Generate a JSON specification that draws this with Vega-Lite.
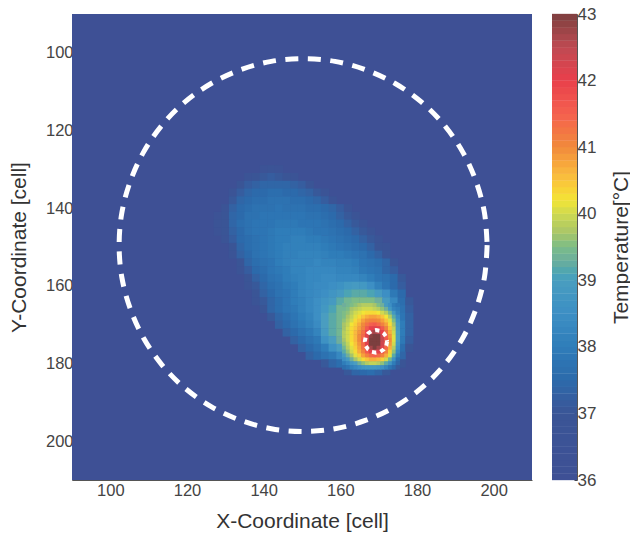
{"$schema":"https://vega.github.io/schema/vega-lite/v6.json","padding":{"left":8,"top":5,"right":0,"bottom":0},"background":"#ffffff","config":{"view":{"stroke":null},"font":"Liberation Sans","axis":{"labelFont":"Liberation Sans","titleFont":"Liberation Sans","labelFontSize":16.5,"titleFontSize":21,"titleFontWeight":"normal","labelColor":"#444444","titleColor":"#333333","grid":false}},"spacing":20,"hconcat":[{"width":460,"height":466,"encoding":{"x":{"field":"x","type":"quantitative","scale":{"domain":[90,210],"nice":false,"zero":false},"axis":{"title":"X-Coordinate [cell]","values":[100,120,140,160,180,200],"tickSize":-3,"tickColor":"#444444","domainColor":"#555555","labelPadding":5,"titlePadding":12}},"y":{"field":"y","type":"quantitative","scale":{"domain":[90,210],"nice":false,"zero":false,"reverse":true},"axis":{"title":"Y-Coordinate [cell]","values":[100,120,140,160,180,200],"tickSize":-3,"tickColor":"#444444","domainColor":"#555555","labelPadding":2,"titlePadding":16}}},"layer":[{"data":{"values":[{"x":90,"x2":210,"y":90,"y2":210,"t":36}]},"mark":{"type":"rect"},"encoding":{"x2":{"field":"x2"},"y2":{"field":"y2"},"color":{"field":"t","type":"quantitative","legend":null,"scale":{"domain":[36,37,37.5,38,38.5,39,39.3,39.7,40.2,40.6,41,41.5,42,42.5,43],"range":["#3e5095","#3a5596","#2c6aab","#2f7db9","#3d8fc4","#4a9dc0","#6fae9c","#a8c46a","#f2e536","#f9b93f","#f08a3c","#f4604f","#e93f4b","#bf4a52","#7c3f3f"]}}}},{"data":{"values":[
{"x":140,"y":130,"t":36.6},{"x":142,"y":130,"t":36.7},{"x":144,"y":130,"t":36.6},{"x":128,"y":142,"t":36.6},{"x":128,"y":144,"t":36.7},{"x":128,"y":146,"t":36.6},
{"x":136,"y":132,"t":36.8},{"x":138,"y":132,"t":37},{"x":140,"y":132,"t":37.1},{"x":142,"y":132,"t":37.2},{"x":144,"y":132,"t":37.1},{"x":146,"y":132,"t":37},{"x":148,"y":132,"t":36.8},
{"x":134,"y":134,"t":36.9},{"x":136,"y":134,"t":37.2},{"x":138,"y":134,"t":37.3},{"x":140,"y":134,"t":37.4},{"x":142,"y":134,"t":37.4},{"x":144,"y":134,"t":37.4},{"x":146,"y":134,"t":37.4},{"x":148,"y":134,"t":37.3},{"x":150,"y":134,"t":37.2},{"x":152,"y":134,"t":36.9},
{"x":132,"y":136,"t":36.8},{"x":134,"y":136,"t":37.2},{"x":136,"y":136,"t":37.4},{"x":138,"y":136,"t":37.5},{"x":140,"y":136,"t":37.5},{"x":142,"y":136,"t":37.6},{"x":144,"y":136,"t":37.6},{"x":146,"y":136,"t":37.5},{"x":148,"y":136,"t":37.5},{"x":150,"y":136,"t":37.4},{"x":152,"y":136,"t":37.3},{"x":154,"y":136,"t":37.1},{"x":156,"y":136,"t":36.8},
{"x":132,"y":138,"t":37.1},{"x":134,"y":138,"t":37.4},{"x":136,"y":138,"t":37.5},{"x":138,"y":138,"t":37.6},{"x":140,"y":138,"t":37.6},{"x":142,"y":138,"t":37.7},{"x":144,"y":138,"t":37.7},{"x":146,"y":138,"t":37.7},{"x":148,"y":138,"t":37.6},{"x":150,"y":138,"t":37.6},{"x":152,"y":138,"t":37.5},{"x":154,"y":138,"t":37.4},{"x":156,"y":138,"t":37.2},{"x":158,"y":138,"t":36.8},
{"x":130,"y":140,"t":36.8},{"x":132,"y":140,"t":37.3},{"x":134,"y":140,"t":37.5},{"x":136,"y":140,"t":37.6},{"x":138,"y":140,"t":37.7},{"x":140,"y":140,"t":37.7},{"x":142,"y":140,"t":37.7},{"x":144,"y":140,"t":37.8},{"x":146,"y":140,"t":37.7},{"x":148,"y":140,"t":37.7},{"x":150,"y":140,"t":37.7},{"x":152,"y":140,"t":37.6},{"x":154,"y":140,"t":37.6},{"x":156,"y":140,"t":37.5},{"x":158,"y":140,"t":37.4},{"x":160,"y":140,"t":37.2},{"x":162,"y":140,"t":36.8},
{"x":130,"y":142,"t":37},{"x":132,"y":142,"t":37.4},{"x":134,"y":142,"t":37.5},{"x":136,"y":142,"t":37.7},{"x":138,"y":142,"t":37.7},{"x":140,"y":142,"t":37.8},{"x":142,"y":142,"t":37.8},{"x":144,"y":142,"t":37.8},{"x":146,"y":142,"t":37.8},{"x":148,"y":142,"t":37.8},{"x":150,"y":142,"t":37.8},{"x":152,"y":142,"t":37.7},{"x":154,"y":142,"t":37.7},{"x":156,"y":142,"t":37.6},{"x":158,"y":142,"t":37.5},{"x":160,"y":142,"t":37.3},{"x":162,"y":142,"t":37.1},{"x":164,"y":142,"t":36.8},
{"x":130,"y":144,"t":37},{"x":132,"y":144,"t":37.4},{"x":134,"y":144,"t":37.6},{"x":136,"y":144,"t":37.7},{"x":138,"y":144,"t":37.8},{"x":140,"y":144,"t":37.8},{"x":142,"y":144,"t":37.8},{"x":144,"y":144,"t":37.9},{"x":146,"y":144,"t":37.9},{"x":148,"y":144,"t":37.9},{"x":150,"y":144,"t":37.8},{"x":152,"y":144,"t":37.8},{"x":154,"y":144,"t":37.8},{"x":156,"y":144,"t":37.7},{"x":158,"y":144,"t":37.6},{"x":160,"y":144,"t":37.5},{"x":162,"y":144,"t":37.3},{"x":164,"y":144,"t":37.1},{"x":166,"y":144,"t":36.8},
{"x":130,"y":146,"t":36.9},{"x":132,"y":146,"t":37.3},{"x":134,"y":146,"t":37.5},{"x":136,"y":146,"t":37.7},{"x":138,"y":146,"t":37.8},{"x":140,"y":146,"t":37.8},{"x":142,"y":146,"t":37.9},{"x":144,"y":146,"t":38},{"x":146,"y":146,"t":38},{"x":148,"y":146,"t":38},{"x":150,"y":146,"t":38},{"x":152,"y":146,"t":37.9},{"x":154,"y":146,"t":37.8},{"x":156,"y":146,"t":37.8},{"x":158,"y":146,"t":37.7},{"x":160,"y":146,"t":37.6},{"x":162,"y":146,"t":37.5},{"x":164,"y":146,"t":37.3},{"x":166,"y":146,"t":37.1},{"x":168,"y":146,"t":36.8},
{"x":130,"y":148,"t":36.8},{"x":132,"y":148,"t":37.2},{"x":134,"y":148,"t":37.5},{"x":136,"y":148,"t":37.6},{"x":138,"y":148,"t":37.7},{"x":140,"y":148,"t":37.8},{"x":142,"y":148,"t":37.9},{"x":144,"y":148,"t":38},{"x":146,"y":148,"t":38},{"x":148,"y":148,"t":38.1},{"x":150,"y":148,"t":38.1},{"x":152,"y":148,"t":38},{"x":154,"y":148,"t":38},{"x":156,"y":148,"t":37.9},{"x":158,"y":148,"t":37.8},{"x":160,"y":148,"t":37.7},{"x":162,"y":148,"t":37.6},{"x":164,"y":148,"t":37.5},{"x":166,"y":148,"t":37.3},{"x":168,"y":148,"t":37.1},{"x":170,"y":148,"t":36.8},
{"x":132,"y":150,"t":37},{"x":134,"y":150,"t":37.4},{"x":136,"y":150,"t":37.6},{"x":138,"y":150,"t":37.7},{"x":140,"y":150,"t":37.8},{"x":142,"y":150,"t":37.9},{"x":144,"y":150,"t":38},{"x":146,"y":150,"t":38.1},{"x":148,"y":150,"t":38.1},{"x":150,"y":150,"t":38.1},{"x":152,"y":150,"t":38.1},{"x":154,"y":150,"t":38.1},{"x":156,"y":150,"t":38},{"x":158,"y":150,"t":37.9},{"x":160,"y":150,"t":37.8},{"x":162,"y":150,"t":37.7},{"x":164,"y":150,"t":37.6},{"x":166,"y":150,"t":37.5},{"x":168,"y":150,"t":37.3},{"x":170,"y":150,"t":37},{"x":172,"y":150,"t":36.8},
{"x":132,"y":152,"t":36.8},{"x":134,"y":152,"t":37.3},{"x":136,"y":152,"t":37.5},{"x":138,"y":152,"t":37.7},{"x":140,"y":152,"t":37.8},{"x":142,"y":152,"t":37.9},{"x":144,"y":152,"t":38},{"x":146,"y":152,"t":38.1},{"x":148,"y":152,"t":38.1},{"x":150,"y":152,"t":38.2},{"x":152,"y":152,"t":38.2},{"x":154,"y":152,"t":38.2},{"x":156,"y":152,"t":38.1},{"x":158,"y":152,"t":38},{"x":160,"y":152,"t":38},{"x":162,"y":152,"t":37.9},{"x":164,"y":152,"t":37.8},{"x":166,"y":152,"t":37.7},{"x":168,"y":152,"t":37.5},{"x":170,"y":152,"t":37.3},{"x":172,"y":152,"t":37},
{"x":134,"y":154,"t":37},{"x":136,"y":154,"t":37.4},{"x":138,"y":154,"t":37.6},{"x":140,"y":154,"t":37.7},{"x":142,"y":154,"t":37.8},{"x":144,"y":154,"t":38},{"x":146,"y":154,"t":38.1},{"x":148,"y":154,"t":38.2},{"x":150,"y":154,"t":38.2},{"x":152,"y":154,"t":38.2},{"x":154,"y":154,"t":38.3},{"x":156,"y":154,"t":38.2},{"x":158,"y":154,"t":38.2},{"x":160,"y":154,"t":38.1},{"x":162,"y":154,"t":38.1},{"x":164,"y":154,"t":38},{"x":166,"y":154,"t":37.8},{"x":168,"y":154,"t":37.7},{"x":170,"y":154,"t":37.6},{"x":172,"y":154,"t":37.4},{"x":174,"y":154,"t":37},
{"x":134,"y":156,"t":36.8},{"x":136,"y":156,"t":37.2},{"x":138,"y":156,"t":37.5},{"x":140,"y":156,"t":37.6},{"x":142,"y":156,"t":37.8},{"x":144,"y":156,"t":37.9},{"x":146,"y":156,"t":38},{"x":148,"y":156,"t":38.2},{"x":150,"y":156,"t":38.2},{"x":152,"y":156,"t":38.3},{"x":154,"y":156,"t":38.3},{"x":156,"y":156,"t":38.3},{"x":158,"y":156,"t":38.3},{"x":160,"y":156,"t":38.2},{"x":162,"y":156,"t":38.2},{"x":164,"y":156,"t":38.1},{"x":166,"y":156,"t":37.9},{"x":168,"y":156,"t":37.8},{"x":170,"y":156,"t":37.7},{"x":172,"y":156,"t":37.4},{"x":174,"y":156,"t":37.2},
{"x":136,"y":158,"t":36.9},{"x":138,"y":158,"t":37.3},{"x":140,"y":158,"t":37.5},{"x":142,"y":158,"t":37.7},{"x":144,"y":158,"t":37.8},{"x":146,"y":158,"t":38},{"x":148,"y":158,"t":38.1},{"x":150,"y":158,"t":38.2},{"x":152,"y":158,"t":38.3},{"x":154,"y":158,"t":38.3},{"x":156,"y":158,"t":38.4},{"x":158,"y":158,"t":38.4},{"x":160,"y":158,"t":38.3},{"x":162,"y":158,"t":38.3},{"x":164,"y":158,"t":38.3},{"x":166,"y":158,"t":38.2},{"x":168,"y":158,"t":38},{"x":170,"y":158,"t":37.8},{"x":172,"y":158,"t":37.7},{"x":174,"y":158,"t":37.5},{"x":176,"y":158,"t":37.1},
{"x":136,"y":160,"t":36.8},{"x":138,"y":160,"t":37.1},{"x":140,"y":160,"t":37.4},{"x":142,"y":160,"t":37.6},{"x":144,"y":160,"t":37.7},{"x":146,"y":160,"t":37.9},{"x":148,"y":160,"t":38},{"x":150,"y":160,"t":38.2},{"x":152,"y":160,"t":38.3},{"x":154,"y":160,"t":38.4},{"x":156,"y":160,"t":38.4},{"x":158,"y":160,"t":38.5},{"x":160,"y":160,"t":38.6},{"x":162,"y":160,"t":38.8},{"x":164,"y":160,"t":38.9},{"x":166,"y":160,"t":38.8},{"x":168,"y":160,"t":38.5},{"x":170,"y":160,"t":38.1},{"x":172,"y":160,"t":37.8},{"x":174,"y":160,"t":37.5},{"x":176,"y":160,"t":37.2},
{"x":138,"y":162,"t":36.9},{"x":140,"y":162,"t":37.3},{"x":142,"y":162,"t":37.5},{"x":144,"y":162,"t":37.7},{"x":146,"y":162,"t":37.8},{"x":148,"y":162,"t":38},{"x":150,"y":162,"t":38.2},{"x":152,"y":162,"t":38.3},{"x":154,"y":162,"t":38.4},{"x":156,"y":162,"t":38.5},{"x":158,"y":162,"t":38.7},{"x":160,"y":162,"t":38.9},{"x":162,"y":162,"t":39.1},{"x":164,"y":162,"t":39.2},{"x":166,"y":162,"t":39.2},{"x":168,"y":162,"t":39.1},{"x":170,"y":162,"t":38.9},{"x":172,"y":162,"t":38.5},{"x":174,"y":162,"t":37.9},{"x":176,"y":162,"t":37.5},
{"x":138,"y":164,"t":36.8},{"x":140,"y":164,"t":37.1},{"x":142,"y":164,"t":37.4},{"x":144,"y":164,"t":37.6},{"x":146,"y":164,"t":37.8},{"x":148,"y":164,"t":38},{"x":150,"y":164,"t":38.1},{"x":152,"y":164,"t":38.3},{"x":154,"y":164,"t":38.5},{"x":156,"y":164,"t":38.7},{"x":158,"y":164,"t":38.9},{"x":160,"y":164,"t":39.2},{"x":162,"y":164,"t":39.4},{"x":164,"y":164,"t":39.5},{"x":166,"y":164,"t":39.5},{"x":168,"y":164,"t":39.5},{"x":170,"y":164,"t":39.3},{"x":172,"y":164,"t":38.9},{"x":174,"y":164,"t":38.3},{"x":176,"y":164,"t":37.6},{"x":178,"y":164,"t":37.1},
{"x":140,"y":166,"t":37},{"x":142,"y":166,"t":37.4},{"x":144,"y":166,"t":37.6},{"x":146,"y":166,"t":37.8},{"x":148,"y":166,"t":37.9},{"x":150,"y":166,"t":38.1},{"x":152,"y":166,"t":38.3},{"x":154,"y":166,"t":38.5},{"x":156,"y":166,"t":38.8},{"x":158,"y":166,"t":39.1},{"x":160,"y":166,"t":39.4},{"x":176,"y":166,"t":37.7},{"x":178,"y":166,"t":37.2},
{"x":142,"y":168,"t":37.1},{"x":144,"y":168,"t":37.4},{"x":146,"y":168,"t":37.6},{"x":148,"y":168,"t":37.8},{"x":150,"y":168,"t":38},{"x":152,"y":168,"t":38.2},{"x":154,"y":168,"t":38.5},{"x":156,"y":168,"t":39},{"x":158,"y":168,"t":39.2},{"x":160,"y":168,"t":39.4},{"x":176,"y":168,"t":37.8},{"x":178,"y":168,"t":37.3},
{"x":144,"y":170,"t":37.3},{"x":146,"y":170,"t":37.5},{"x":148,"y":170,"t":37.7},{"x":150,"y":170,"t":37.9},{"x":152,"y":170,"t":38.1},{"x":154,"y":170,"t":38.4},{"x":156,"y":170,"t":39},{"x":158,"y":170,"t":39.2},{"x":160,"y":170,"t":39.4},{"x":176,"y":170,"t":38},{"x":178,"y":170,"t":37.3},
{"x":146,"y":172,"t":37.3},{"x":148,"y":172,"t":37.5},{"x":150,"y":172,"t":37.7},{"x":152,"y":172,"t":37.9},{"x":154,"y":172,"t":38.2},{"x":156,"y":172,"t":38.9},{"x":158,"y":172,"t":39.2},{"x":160,"y":172,"t":39.4},{"x":176,"y":172,"t":38},{"x":178,"y":172,"t":37.3},
{"x":148,"y":174,"t":37.3},{"x":150,"y":174,"t":37.5},{"x":152,"y":174,"t":37.7},{"x":154,"y":174,"t":37.9},{"x":156,"y":174,"t":38.6},{"x":158,"y":174,"t":39},{"x":160,"y":174,"t":39.3},{"x":176,"y":174,"t":37.9},{"x":178,"y":174,"t":37.2},
{"x":150,"y":176,"t":37.3},{"x":152,"y":176,"t":37.5},{"x":154,"y":176,"t":37.7},{"x":156,"y":176,"t":38},{"x":158,"y":176,"t":38.6},{"x":160,"y":176,"t":39},{"x":176,"y":176,"t":37.6},{"x":178,"y":176,"t":37},
{"x":152,"y":178,"t":37.3},{"x":154,"y":178,"t":37.5},{"x":156,"y":178,"t":37.7},{"x":158,"y":178,"t":37.9},{"x":160,"y":178,"t":38.3},{"x":176,"y":178,"t":37.4},
{"x":156,"y":180,"t":37.1},{"x":158,"y":180,"t":37.4},{"x":160,"y":180,"t":37.6},{"x":176,"y":180,"t":37},
{"x":162,"y":182,"t":37.1},{"x":164,"y":182,"t":37.4},{"x":166,"y":182,"t":37.5},{"x":168,"y":182,"t":37.6},{"x":170,"y":182,"t":37.4},{"x":172,"y":182,"t":37.1}
]},"mark":{"type":"rect","width":8.2,"height":8.2},"encoding":{"color":{"field":"t","type":"quantitative","legend":null}}},{"data":{"values":[
{"x":161,"y":165,"t":39.3},{"x":162,"y":165,"t":39.4},{"x":163,"y":165,"t":39.5},{"x":164,"y":165,"t":39.6},{"x":165,"y":165,"t":39.7},{"x":166,"y":165,"t":39.8},{"x":167,"y":165,"t":39.8},{"x":168,"y":165,"t":39.8},{"x":169,"y":165,"t":39.7},{"x":170,"y":165,"t":39.5},{"x":171,"y":165,"t":39.3},{"x":172,"y":165,"t":38.9},{"x":173,"y":165,"t":38.5},{"x":174,"y":165,"t":38},{"x":175,"y":165,"t":37.8},
{"x":161,"y":166,"t":39.4},{"x":162,"y":166,"t":39.5},{"x":163,"y":166,"t":39.7},{"x":164,"y":166,"t":39.8},{"x":165,"y":166,"t":39.9},{"x":166,"y":166,"t":40},{"x":167,"y":166,"t":40},{"x":168,"y":166,"t":40},{"x":169,"y":166,"t":39.9},{"x":170,"y":166,"t":39.8},{"x":171,"y":166,"t":39.6},{"x":172,"y":166,"t":39.3},{"x":173,"y":166,"t":38.8},{"x":174,"y":166,"t":38.2},{"x":175,"y":166,"t":38},
{"x":161,"y":167,"t":39.5},{"x":162,"y":167,"t":39.6},{"x":163,"y":167,"t":39.8},{"x":164,"y":167,"t":40},{"x":165,"y":167,"t":40.1},{"x":166,"y":167,"t":40.2},{"x":167,"y":167,"t":40.3},{"x":168,"y":167,"t":40.3},{"x":169,"y":167,"t":40.3},{"x":170,"y":167,"t":40.2},{"x":171,"y":167,"t":40},{"x":172,"y":167,"t":39.8},{"x":173,"y":167,"t":39.4},{"x":174,"y":167,"t":38.8},{"x":175,"y":167,"t":38.1},
{"x":161,"y":168,"t":39.5},{"x":162,"y":168,"t":39.7},{"x":163,"y":168,"t":39.9},{"x":164,"y":168,"t":40.1},{"x":165,"y":168,"t":40.3},{"x":166,"y":168,"t":40.5},{"x":167,"y":168,"t":40.7},{"x":168,"y":168,"t":40.8},{"x":169,"y":168,"t":40.8},{"x":170,"y":168,"t":40.7},{"x":171,"y":168,"t":40.5},{"x":172,"y":168,"t":40.2},{"x":173,"y":168,"t":39.8},{"x":174,"y":168,"t":39.2},{"x":175,"y":168,"t":38.4},
{"x":161,"y":169,"t":39.6},{"x":162,"y":169,"t":39.8},{"x":163,"y":169,"t":40},{"x":164,"y":169,"t":40.3},{"x":165,"y":169,"t":40.5},{"x":166,"y":169,"t":40.8},{"x":167,"y":169,"t":41},{"x":168,"y":169,"t":41.1},{"x":169,"y":169,"t":41.1},{"x":170,"y":169,"t":41},{"x":171,"y":169,"t":40.8},{"x":172,"y":169,"t":40.5},{"x":173,"y":169,"t":40.1},{"x":174,"y":169,"t":39.5},{"x":175,"y":169,"t":38.6},
{"x":161,"y":170,"t":39.7},{"x":162,"y":170,"t":39.9},{"x":163,"y":170,"t":40.2},{"x":164,"y":170,"t":40.4},{"x":165,"y":170,"t":40.7},{"x":166,"y":170,"t":41},{"x":167,"y":170,"t":41.3},{"x":168,"y":170,"t":41.5},{"x":169,"y":170,"t":41.6},{"x":170,"y":170,"t":41.4},{"x":171,"y":170,"t":41.1},{"x":172,"y":170,"t":40.8},{"x":173,"y":170,"t":40.3},{"x":174,"y":170,"t":39.7},{"x":175,"y":170,"t":38.8},
{"x":161,"y":171,"t":39.7},{"x":162,"y":171,"t":40},{"x":163,"y":171,"t":40.3},{"x":164,"y":171,"t":40.5},{"x":165,"y":171,"t":40.8},{"x":166,"y":171,"t":41.1},{"x":167,"y":171,"t":41.6},{"x":168,"y":171,"t":42},{"x":169,"y":171,"t":42.1},{"x":170,"y":171,"t":42},{"x":171,"y":171,"t":41.6},{"x":172,"y":171,"t":41.1},{"x":173,"y":171,"t":40.5},{"x":174,"y":171,"t":39.9},{"x":175,"y":171,"t":38.9},
{"x":161,"y":172,"t":39.8},{"x":162,"y":172,"t":40},{"x":163,"y":172,"t":40.3},{"x":164,"y":172,"t":40.6},{"x":165,"y":172,"t":40.9},{"x":166,"y":172,"t":41.3},{"x":167,"y":172,"t":41.9},{"x":168,"y":172,"t":42.4},{"x":169,"y":172,"t":42.7},{"x":170,"y":172,"t":42.5},{"x":171,"y":172,"t":42},{"x":172,"y":172,"t":41.3},{"x":173,"y":172,"t":40.7},{"x":174,"y":172,"t":40},{"x":175,"y":172,"t":39},
{"x":161,"y":173,"t":39.8},{"x":162,"y":173,"t":40},{"x":163,"y":173,"t":40.3},{"x":164,"y":173,"t":40.6},{"x":165,"y":173,"t":41},{"x":166,"y":173,"t":41.4},{"x":167,"y":173,"t":42.1},{"x":168,"y":173,"t":42.9},{"x":169,"y":173,"t":43},{"x":170,"y":173,"t":43},{"x":171,"y":173,"t":42.3},{"x":172,"y":173,"t":41.5},{"x":173,"y":173,"t":40.9},{"x":174,"y":173,"t":40.1},{"x":175,"y":173,"t":39},
{"x":161,"y":174,"t":39.7},{"x":162,"y":174,"t":40},{"x":163,"y":174,"t":40.3},{"x":164,"y":174,"t":40.6},{"x":165,"y":174,"t":41},{"x":166,"y":174,"t":41.5},{"x":167,"y":174,"t":42.2},{"x":168,"y":174,"t":43},{"x":169,"y":174,"t":43},{"x":170,"y":174,"t":43},{"x":171,"y":174,"t":42.4},{"x":172,"y":174,"t":41.6},{"x":173,"y":174,"t":41},{"x":174,"y":174,"t":40.1},{"x":175,"y":174,"t":39},
{"x":161,"y":175,"t":39.6},{"x":162,"y":175,"t":39.9},{"x":163,"y":175,"t":40.2},{"x":164,"y":175,"t":40.5},{"x":165,"y":175,"t":40.9},{"x":166,"y":175,"t":41.4},{"x":167,"y":175,"t":42.1},{"x":168,"y":175,"t":43},{"x":169,"y":175,"t":43},{"x":170,"y":175,"t":43},{"x":171,"y":175,"t":42.3},{"x":172,"y":175,"t":41.5},{"x":173,"y":175,"t":40.9},{"x":174,"y":175,"t":40},{"x":175,"y":175,"t":38.8},
{"x":161,"y":176,"t":39.4},{"x":162,"y":176,"t":39.8},{"x":163,"y":176,"t":40.1},{"x":164,"y":176,"t":40.4},{"x":165,"y":176,"t":40.8},{"x":166,"y":176,"t":41.3},{"x":167,"y":176,"t":41.9},{"x":168,"y":176,"t":42.7},{"x":169,"y":176,"t":43},{"x":170,"y":176,"t":42.7},{"x":171,"y":176,"t":42.1},{"x":172,"y":176,"t":41.4},{"x":173,"y":176,"t":40.7},{"x":174,"y":176,"t":39.8},{"x":175,"y":176,"t":38.6},
{"x":161,"y":177,"t":39.2},{"x":162,"y":177,"t":39.6},{"x":163,"y":177,"t":40},{"x":164,"y":177,"t":40.3},{"x":165,"y":177,"t":40.7},{"x":166,"y":177,"t":41.1},{"x":167,"y":177,"t":41.6},{"x":168,"y":177,"t":42.1},{"x":169,"y":177,"t":42.3},{"x":170,"y":177,"t":42.1},{"x":171,"y":177,"t":41.7},{"x":172,"y":177,"t":41.1},{"x":173,"y":177,"t":40.4},{"x":174,"y":177,"t":39.6},{"x":175,"y":177,"t":38.3},
{"x":161,"y":178,"t":38.9},{"x":162,"y":178,"t":39.3},{"x":163,"y":178,"t":39.7},{"x":164,"y":178,"t":40.1},{"x":165,"y":178,"t":40.4},{"x":166,"y":178,"t":40.8},{"x":167,"y":178,"t":41.1},{"x":168,"y":178,"t":41.4},{"x":169,"y":178,"t":41.5},{"x":170,"y":178,"t":41.4},{"x":171,"y":178,"t":41.1},{"x":172,"y":178,"t":40.7},{"x":173,"y":178,"t":40.1},{"x":174,"y":178,"t":39.2},{"x":175,"y":178,"t":38},
{"x":161,"y":179,"t":38.5},{"x":162,"y":179,"t":38.9},{"x":163,"y":179,"t":39.3},{"x":164,"y":179,"t":39.7},{"x":165,"y":179,"t":40},{"x":166,"y":179,"t":40.3},{"x":167,"y":179,"t":40.5},{"x":168,"y":179,"t":40.7},{"x":169,"y":179,"t":40.7},{"x":170,"y":179,"t":40.6},{"x":171,"y":179,"t":40.4},{"x":172,"y":179,"t":40},{"x":173,"y":179,"t":39.4},{"x":174,"y":179,"t":38.6},{"x":175,"y":179,"t":37.6},
{"x":161,"y":180,"t":38},{"x":162,"y":180,"t":38.3},{"x":163,"y":180,"t":38.7},{"x":164,"y":180,"t":39},{"x":165,"y":180,"t":39.3},{"x":166,"y":180,"t":39.6},{"x":167,"y":180,"t":39.8},{"x":168,"y":180,"t":39.9},{"x":169,"y":180,"t":39.9},{"x":170,"y":180,"t":39.8},{"x":171,"y":180,"t":39.6},{"x":172,"y":180,"t":39.2},{"x":173,"y":180,"t":38.7},{"x":174,"y":180,"t":38},{"x":175,"y":180,"t":37.4},
{"x":161,"y":181,"t":37.6},{"x":162,"y":181,"t":37.8},{"x":163,"y":181,"t":38.1},{"x":164,"y":181,"t":38.3},{"x":165,"y":181,"t":38.5},{"x":166,"y":181,"t":38.7},{"x":167,"y":181,"t":38.8},{"x":168,"y":181,"t":38.8},{"x":169,"y":181,"t":38.8},{"x":170,"y":181,"t":38.7},{"x":171,"y":181,"t":38.5},{"x":172,"y":181,"t":38.2},{"x":173,"y":181,"t":37.8},{"x":174,"y":181,"t":37.5},{"x":175,"y":181,"t":37.1}
]},"mark":{"type":"rect","width":4.4,"height":4.4},"encoding":{"color":{"field":"t","type":"quantitative","legend":null}}},{"data":{"values":[{"i":0,"x":198.3,"y":149.5},{"i":1,"x":197.6,"y":157.8},{"i":2,"x":195.4,"y":165.9},{"i":3,"x":191.9,"y":173.5},{"i":4,"x":187.1,"y":180.4},{"i":5,"x":181.2,"y":186.3},{"i":6,"x":174.3,"y":191.1},{"i":7,"x":166.7,"y":194.6},{"i":8,"x":158.6,"y":196.8},{"i":9,"x":150.3,"y":197.5},{"i":10,"x":142,"y":196.8},{"i":11,"x":133.9,"y":194.6},{"i":12,"x":126.3,"y":191.1},{"i":13,"x":119.4,"y":186.3},{"i":14,"x":113.5,"y":180.4},{"i":15,"x":108.7,"y":173.5},{"i":16,"x":105.2,"y":165.9},{"i":17,"x":103,"y":157.8},{"i":18,"x":102.3,"y":149.5},{"i":19,"x":103,"y":141.2},{"i":20,"x":105.2,"y":133.1},{"i":21,"x":108.7,"y":125.5},{"i":22,"x":113.5,"y":118.6},{"i":23,"x":119.4,"y":112.7},{"i":24,"x":126.3,"y":107.9},{"i":25,"x":133.9,"y":104.4},{"i":26,"x":142,"y":102.2},{"i":27,"x":150.3,"y":101.5},{"i":28,"x":158.6,"y":102.2},{"i":29,"x":166.7,"y":104.4},{"i":30,"x":174.3,"y":107.9},{"i":31,"x":181.2,"y":112.7},{"i":32,"x":187.1,"y":118.6},{"i":33,"x":191.9,"y":125.5},{"i":34,"x":195.4,"y":133.1},{"i":35,"x":197.6,"y":141.2},{"i":36,"x":198.3,"y":149.5}]},"mark":{"type":"line","color":"#ffffff","strokeWidth":5,"strokeDash":[13,9.5],"interpolate":"cardinal"},"encoding":{"order":{"field":"i"}}},{"data":{"values":[{"i":0,"x":172.2,"y":174.3},{"i":1,"x":172,"y":175.4},{"i":2,"x":171.35,"y":176.35},{"i":3,"x":170.4,"y":177},{"i":4,"x":169.3,"y":177.2},{"i":5,"x":168.2,"y":177},{"i":6,"x":167.25,"y":176.35},{"i":7,"x":166.6,"y":175.4},{"i":8,"x":166.4,"y":174.3},{"i":9,"x":166.6,"y":173.2},{"i":10,"x":167.25,"y":172.25},{"i":11,"x":168.2,"y":171.6},{"i":12,"x":169.3,"y":171.4},{"i":13,"x":170.4,"y":171.6},{"i":14,"x":171.35,"y":172.25},{"i":15,"x":172,"y":173.2},{"i":16,"x":172.2,"y":174.3}]},"mark":{"type":"line","color":"#ffffff","strokeWidth":4,"strokeDash":[4.4,4.2]},"encoding":{"order":{"field":"i"}}}]},{"width":25,"height":466,"data":{"values":[{"t":36.05},{"t":36.15},{"t":36.25},{"t":36.35},{"t":36.45},{"t":36.55},{"t":36.65},{"t":36.75},{"t":36.85},{"t":36.95},{"t":37.05},{"t":37.15},{"t":37.25},{"t":37.35},{"t":37.45},{"t":37.55},{"t":37.65},{"t":37.75},{"t":37.85},{"t":37.95},{"t":38.05},{"t":38.15},{"t":38.25},{"t":38.35},{"t":38.45},{"t":38.55},{"t":38.65},{"t":38.75},{"t":38.85},{"t":38.95},{"t":39.05},{"t":39.15},{"t":39.25},{"t":39.35},{"t":39.45},{"t":39.55},{"t":39.65},{"t":39.75},{"t":39.85},{"t":39.95},{"t":40.05},{"t":40.15},{"t":40.25},{"t":40.35},{"t":40.45},{"t":40.55},{"t":40.65},{"t":40.75},{"t":40.85},{"t":40.95},{"t":41.05},{"t":41.15},{"t":41.25},{"t":41.35},{"t":41.45},{"t":41.55},{"t":41.65},{"t":41.75},{"t":41.85},{"t":41.95},{"t":42.05},{"t":42.15},{"t":42.25},{"t":42.35},{"t":42.45},{"t":42.55},{"t":42.65},{"t":42.75},{"t":42.85},{"t":42.95}]},"mark":{"type":"rect","height":7},"encoding":{"y":{"field":"t","type":"quantitative","scale":{"domain":[36,43],"nice":false,"zero":false},"axis":{"orient":"right","title":"Temperature[°C]","titleAngle":270,"titleAlign":"center","titleBaseline":"top","titleX":33,"titleY":233,"titleFontSize":21,"labelFontSize":17,"values":[36,37,38,39,40,41,42,43],"tickSize":-3,"tickColor":"#444444","domainColor":"#555555","labelPadding":3,"titlePadding":8}},"color":{"field":"t","type":"quantitative","legend":null,"scale":{"domain":[36,37,37.5,38,38.5,39,39.3,39.7,40.2,40.6,41,41.5,42,42.5,43],"range":["#3e5095","#3a5596","#2c6aab","#2f7db9","#3d8fc4","#4a9dc0","#6fae9c","#a8c46a","#f2e536","#f9b93f","#f08a3c","#f4604f","#e93f4b","#bf4a52","#7c3f3f"]}}}}]}
